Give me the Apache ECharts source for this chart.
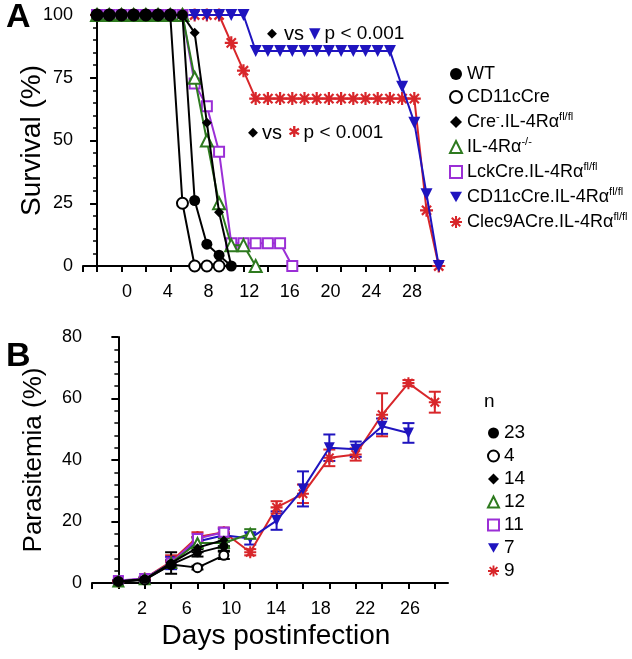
<!DOCTYPE html>
<html><head><meta charset="utf-8">
<script src="https://cdn.jsdelivr.net/npm/echarts@6/dist/echarts.min.js"></script>
<style>html,body{margin:0;padding:0;background:#fff}#c{width:632px;height:659px}</style>
</head><body><div id="c"></div>
<script>
// ---------- Panel A: survival (%), one value per day starting at day 0 ----------
const survDays = [0,1,2,3,4,5,6,7,8,9,10,11,12,13,14,15,16,17,18,19,20,21,22,23,24,25,26,27,28];
const survWT      = [100,100,100,100,100,100,100,100,26.1,8.7,4.3,0];
const survCD11c   = [100,100,100,100,100,100,100,25,0,0,0];
const survCreNeg  = [100,100,100,100,100,100,100,100,92.9,57.1,21.4,0];
const survIL4RaKO = [100,100,100,100,100,100,100,100,75,50,25,8.3,8.3,0];
const survLck     = [100,100,100,100,100,100,100,100,72.7,63.6,45.5,9.1,9.1,9.1,9.1,9.1,0];
const survCD11cFl = [100,100,100,100,100,100,100,100,100,100,100,100,100,85.7,85.7,85.7,85.7,85.7,85.7,85.7,85.7,85.7,85.7,85.7,85.7,71.4,57.1,28.6,0];
const survClec9A  = [100,100,100,100,100,100,100,100,100,100,100,88.9,77.8,66.7,66.7,66.7,66.7,66.7,66.7,66.7,66.7,66.7,66.7,66.7,66.7,66.7,66.7,22.2,0];
const xLabelsA = ['0','4','8','12','16','20','24','28'];

// ---------- Panel B: parasitemia (%) ----------
const paraDays = [0,2,4,6,8,10,12,14,16,18,20,22,24];
const paraWT       = [0.5,1.2,6,9.8,12];
const paraWTErr    = [0.2,0.3,1,1.2,1.5];
const paraCD11c    = [0.5,1,6,5,9];
const paraCD11cErr = [0.2,0.3,1,0.6,1.2];
const paraCreNeg   = [0.5,1.2,6.5,11.5,14];
const paraCreNegErr= [0.2,0.4,3.5,1.5,2];
const paraIL4RaKO  = [0.5,1.2,6.5,13,13,16];
const paraIL4RaKOErr=[0.2,0.3,1,1.5,1.5,1.5];
const paraLck      = [0.8,1.5,6.5,14.5,16.5];
const paraLckErr   = [0.2,0.3,1,1.5,1.5];
const paraCD11cFl  = [0.5,1.5,6.5,13.5,15.5,14.5,20.3,30.6,44,43.5,51,48.8];
const paraCD11cFlErr=[0.3,0.5,2,1.5,2,2,3,5.7,4.3,2.5,2.5,3.2];
const paraClec9A   = [0.5,1.5,7,15,16.5,10,24.6,29,40.7,41.8,54.7,65,58.8];
const paraClec9AErr= [0.3,0.5,2,1.5,1.5,1,2,3,2.7,2,7,1,3.4];
const nB = ['23','4','14','12','11','7','9'];
const xLabelsB = ['2','6','10','14','18','22','26'];

// ---------- styles ----------
const FONT = "'Liberation Sans', Arial, Helvetica, sans-serif";
const C = {black:'#000000', green:'#2e7a1f', purple:'#9b2fd6', blue:'#1f14bf', red:'#d8262a'};
function asteriskPath(){
  let d='';
  for(let k=0;k<4;k++){
    const a=k*Math.PI/4, c=Math.cos(a), s=Math.sin(a), L=1, w=0.17;
    const pts=[[-L,-w],[L,-w],[L,w],[-L,w]].map(([x,y])=>[(x*c-y*s).toFixed(3),(x*s+y*c).toFixed(3)]);
    d+='M'+pts.map(p=>p.join(' ')).join(' L')+' Z ';
  }
  return 'path://'+d;
}
const SYM = {
  circle:'circle', open:'emptyCircle',
  diamond:'path://M0 -1 L1 0 L0 1 L-1 0 Z',
  tri:'emptyTriangle', sq:'emptyRect',
  down:'path://M-1 -0.88 L1 -0.88 L0 0.88 Z',
  ast: asteriskPath()
};

const groups = [
  {name:'WT', label:'{n|WT}', sym:SYM.circle, color:C.black, empty:false, sa:11, sb:9,
   surv:survWT, para:paraWT, err:paraWTErr},
  {name:'CD11cCre', label:'{n|CD11cCre}', sym:SYM.open, color:C.black, empty:true, sa:11, sb:9,
   surv:survCD11c, para:paraCD11c, err:paraCD11cErr},
  {name:'Cre-.IL-4Rα fl/fl', label:'{n|Cre}{s|-}{n|.IL-4Rα}{s|fl/fl}', sym:SYM.diamond, color:C.black, empty:false, sa:10, sb:9,
   surv:survCreNeg, para:paraCreNeg, err:paraCreNegErr},
  {name:'IL-4Rα-/-', label:'{n|IL-4Rα}{s|-/-}', sym:SYM.tri, color:C.green, empty:true, sa:12, sb:10,
   surv:survIL4RaKO, para:paraIL4RaKO, err:paraIL4RaKOErr},
  {name:'LckCre.IL-4Rα fl/fl', label:'{n|LckCre.IL-4Rα}{s|fl/fl}', sym:SYM.sq, color:C.purple, empty:true, sa:10, sb:9,
   surv:survLck, para:paraLck, err:paraLckErr},
  {name:'CD11cCre.IL-4Rα fl/fl', label:'{n|CD11cCre.IL-4Rα}{s|fl/fl}', sym:SYM.down, color:C.blue, empty:false, sa:12, sb:11,
   surv:survCD11cFl, para:paraCD11cFl, err:paraCD11cFlErr},
  {name:'Clec9ACre.IL-4Rα fl/fl', label:'{n|Clec9ACre.IL-4Rα}{s|fl/fl}', sym:SYM.ast, color:C.red, empty:false, sa:13, sb:12,
   surv:survClec9A, para:paraClec9A, err:paraClec9AErr}
];
const drawOrder = [6,5,4,3,2,1,0];

const series = [];
drawOrder.forEach((gi,k)=>{
  const g = groups[gi];
  series.push({
    type:'line', name:g.name, xAxisIndex:0, yAxisIndex:0,
    data:g.surv.map((v,i)=>[survDays[i],v]),
    symbol:g.sym, symbolSize:g.sa, showAllSymbol:true,
    lineStyle:{color:g.color, width:2},
    itemStyle:{color:g.color, borderWidth:g.empty?2:0, borderColor:g.color},
    z:2+k, animation:false
  });
});
function errRender(params, api){
  const x=api.value(0), lo=api.value(1), hi=api.value(2);
  const p1=api.coord([x,lo]), p2=api.coord([x,hi]);
  const w=6, st={stroke:api.visual('color'), lineWidth:2};
  return {type:'group', children:[
    {type:'line', shape:{x1:p1[0],y1:p1[1],x2:p2[0],y2:p2[1]}, style:st},
    {type:'line', shape:{x1:p1[0]-w,y1:p1[1],x2:p1[0]+w,y2:p1[1]}, style:st},
    {type:'line', shape:{x1:p2[0]-w,y1:p2[1],x2:p2[0]+w,y2:p2[1]}, style:st}
  ]};
}
drawOrder.forEach((gi,k)=>{
  const g = groups[gi];
  series.push({
    type:'custom', name:g.name+' err', xAxisIndex:2, yAxisIndex:2,
    data:g.para.map((v,i)=>[paraDays[i], v-g.err[i], v+g.err[i]]),
    renderItem:errRender, itemStyle:{color:g.color}, z:2+k, animation:false, silent:true
  });
  series.push({
    type:'line', name:g.name+' (B)', xAxisIndex:2, yAxisIndex:2,
    data:g.para.map((v,i)=>[paraDays[i],v]),
    symbol:g.sym, symbolSize:g.sb, showAllSymbol:true,
    lineStyle:{color:g.color, width:2},
    itemStyle:{color:g.color, borderWidth:g.empty?2:0, borderColor:g.color},
    z:10+k, animation:false
  });
});

const axisLineStyle = {color:'#000', width:2};
const labelStyle = {color:'#000', fontSize:18, fontFamily:FONT};
const titleStyle = {fontSize:28, color:'#000', fontFamily:FONT};
const richA = {
  n:{fontSize:18, lineHeight:22, color:'#000', fontFamily:FONT},
  s:{fontSize:11, lineHeight:12, verticalAlign:'top', color:'#000', fontFamily:FONT}
};
const labelMap = {}; groups.forEach(g=>labelMap[g.name]=g.label);
const nMap = {}; groups.forEach((g,i)=>nMap[g.name+' (B)']=nB[i]);

const option = {
  animation:false,
  backgroundColor:'#fff',
  textStyle:{fontFamily:FONT},
  grid:[
    {left:83, right:189, top:15, bottom:393},
    {left:127, right:220, top:15, bottom:393},
    {left:92, right:184, top:337, bottom:76},
    {left:142, right:222, top:337, bottom:76}
  ],
  xAxis:[
    {gridIndex:0, type:'value', min:-1.15, max:28.35,
     axisLine:{show:true, onZero:false, lineStyle:axisLineStyle},
     axisTick:{show:true, length:6, lineStyle:{width:2}, customValues:[-1.15,0,2,4,6,8,10,12,14,16,18,20,22,24,26,28]},
     axisLabel:{show:false}, splitLine:{show:false}},
    {gridIndex:1, type:'category', data:xLabelsA, boundaryGap:false,
     axisLine:{show:false}, axisTick:{show:false}, axisLabel:Object.assign({margin:17, interval:0}, labelStyle), splitLine:{show:false}},
    {gridIndex:2, type:'value', min:-2, max:25,
     axisLine:{show:true, onZero:false, lineStyle:axisLineStyle},
     axisTick:{show:true, length:6, lineStyle:{width:2}, customValues:[-2,0,2,4,6,8,10,12,14,16,18,20,22,24]},
     axisLabel:{show:false}, splitLine:{show:false}},
    {gridIndex:3, type:'category', data:xLabelsB, boundaryGap:false,
     axisLine:{show:false}, axisTick:{show:false}, axisLabel:Object.assign({margin:17, interval:0}, labelStyle), splitLine:{show:false},
     name:'Days postinfection', nameLocation:'middle', nameGap:39, nameMoveOverlap:false, nameTextStyle:titleStyle}
  ],
  yAxis:[
    {gridIndex:0, type:'value', min:0, max:100, interval:25,
     axisLine:{show:true, lineStyle:axisLineStyle},
     axisTick:{show:true, length:7, lineStyle:{width:2}},
     minorTick:{show:true, splitNumber:5, length:4, lineStyle:{color:'#000', width:1.5}},
     axisLabel:Object.assign({margin:10}, labelStyle), splitLine:{show:false}, minorSplitLine:{show:false},
     name:'Survival (%)', nameLocation:'middle', nameGap:37, nameMoveOverlap:false, nameTextStyle:titleStyle},
    {gridIndex:1, type:'value', min:0, max:100, show:false},
    {gridIndex:2, type:'value', min:0, max:80, interval:20,
     axisLine:{show:true, lineStyle:axisLineStyle},
     axisTick:{show:true, length:7, lineStyle:{width:2}},
     minorTick:{show:true, splitNumber:5, length:4, lineStyle:{color:'#000', width:1.5}},
     axisLabel:Object.assign({margin:10}, labelStyle), splitLine:{show:false}, minorSplitLine:{show:false},
     name:'Parasitemia (%)', nameLocation:'middle', nameGap:45, nameMoveOverlap:false,
     nameTextStyle:{fontSize:26, color:'#000', fontFamily:FONT}},
    {gridIndex:3, type:'value', min:0, max:80, show:false}
  ],
  legend:[
    {orient:'vertical', left:444, top:60, itemWidth:12, itemHeight:12, itemGap:5, selectedMode:false,
     data:groups.map(g=>({name:g.name, icon:g.sym})),
     formatter:name=>labelMap[name],
     textStyle:{rich:richA, color:'#000', fontSize:18, fontFamily:FONT}},
    {orient:'vertical', left:482, top:417, itemWidth:11, itemHeight:11, itemGap:1, selectedMode:false,
     data:groups.map(g=>({name:g.name+' (B)', icon:g.sym})),
     formatter:name=>nMap[name],
     textStyle:{color:'#000', fontSize:19, lineHeight:22, fontFamily:FONT}}
  ],
  graphic:[
    {type:'text', left:6, top:1, style:{text:'A', font:"bold 34px "+FONT, fill:'#000'}},
    {type:'text', left:6, top:340, style:{text:'B', font:"bold 34px "+FONT, fill:'#000'}},
    {type:'text', left:484, top:392, style:{text:'n', font:"19px "+FONT, fill:'#000'}},
    {type:'text', left:267, top:24, style:{
      text:'{d|◆}{v|vs}{t|▼}{p|p < 0.001}',
      font:"19px "+FONT, fill:'#000',
      rich:{d:{fontFamily:'DejaVu Sans', fontSize:13, fill:'#000', padding:[0,7,0,0]},
            v:{fontSize:20, fontFamily:FONT, fill:'#000', padding:[0,5,0,0]},
            t:{fontFamily:'DejaVu Sans', fontSize:15, fill:C.blue, padding:[0,4,0,0]},
            p:{fontSize:19, fontFamily:FONT, fill:'#000'}}}},
    {type:'text', left:248, top:123, style:{
      text:'{d|◆}{v|vs}{a|✱}{p|p < 0.001}',
      font:"19px "+FONT, fill:'#000',
      rich:{d:{fontFamily:'DejaVu Sans', fontSize:13, fill:'#000', padding:[0,4,0,0]},
            v:{fontSize:20, fontFamily:FONT, fill:'#000', padding:[0,6,0,0]},
            a:{fontFamily:'DejaVu Sans', fontSize:15, fill:C.red, padding:[0,3,0,0]},
            p:{fontSize:19, fontFamily:FONT, fill:'#000'}}}}
  ],
  series:series
};
const chart = echarts.init(document.getElementById('c'), null, {renderer:'canvas'});
chart.setOption(option);
</script></body></html>
